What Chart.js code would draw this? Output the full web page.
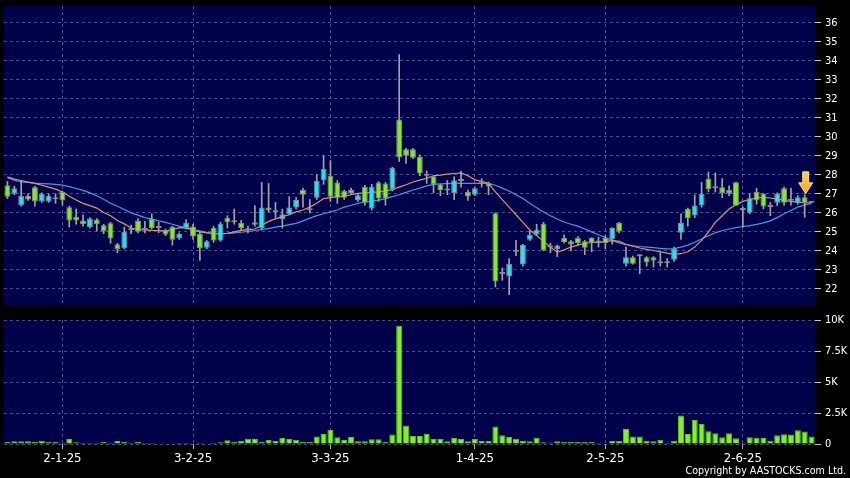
<!DOCTYPE html>
<html>
<head>
<meta charset="utf-8">
<script src="https://cdn.jsdelivr.net/npm/chart.js@4.4.1/dist/chart.umd.min.js"></script>
<style>
    html, body { margin: 0; padding: 0; background: #000; }
    body { width: 850px; height: 478px; position: relative; overflow: hidden; }
    #priceBox { position: absolute; left: 0; top: 0; width: 850px; height: 312px; }
    #volBox { position: absolute; left: 0; top: 312px; width: 850px; height: 166px; }
    #copyright {
        position: absolute; right: 4px; top: 464px; color: #fff;
        font: 10.6px "DejaVu Sans Condensed", "Liberation Sans Narrow", sans-serif;
    }
</style>
</head>
<body>
<div id="priceBox"><canvas id="priceChart"></canvas></div>
<div id="volBox"><canvas id="volChart"></canvas></div>
<div id="copyright">Copyright by AASTOCKS.com Ltd.</div>

<script>
const dates = [
    "18-12-24","19-12-24","20-12-24","23-12-24","24-12-24","27-12-24","30-12-24","31-12-24",
    "2-1-25","3-1-25","6-1-25","7-1-25","8-1-25","9-1-25","10-1-25","13-1-25","14-1-25","15-1-25",
    "16-1-25","17-1-25","20-1-25","21-1-25","22-1-25","23-1-25","24-1-25","27-1-25","28-1-25",
    "3-2-25","4-2-25","5-2-25","6-2-25","7-2-25","10-2-25","11-2-25","12-2-25","13-2-25","14-2-25",
    "17-2-25","18-2-25","19-2-25","20-2-25","21-2-25","24-2-25","25-2-25","26-2-25","27-2-25","28-2-25",
    "3-3-25","4-3-25","5-3-25","6-3-25","7-3-25","10-3-25","11-3-25","12-3-25","13-3-25","14-3-25",
    "17-3-25","18-3-25","19-3-25","20-3-25","21-3-25","24-3-25","25-3-25","26-3-25","27-3-25","28-3-25","31-3-25",
    "1-4-25","2-4-25","3-4-25","7-4-25","8-4-25","9-4-25","10-4-25","11-4-25","14-4-25","15-4-25",
    "16-4-25","17-4-25","22-4-25","23-4-25","24-4-25","25-4-25","28-4-25","29-4-25","30-4-25",
    "2-5-25","6-5-25","7-5-25","8-5-25","9-5-25","12-5-25","13-5-25","14-5-25","15-5-25","16-5-25",
    "19-5-25","20-5-25","21-5-25","22-5-25","23-5-25","26-5-25","27-5-25","28-5-25","29-5-25","30-5-25",
    "2-6-25","3-6-25","4-6-25","5-6-25","6-6-25","9-6-25","10-6-25","11-6-25","12-6-25","13-6-25","16-6-25"
];

const opens = [
    27.45, 27.0, 26.4, 26.9, 27.35, 26.6, 26.6, 26.72, 27.1, 26.3,
    25.8, 25.6, 25.25, 25.65, 25.35, 25.45, 24.35, 24.15, 25.08, 25.6,
    25.1, 25.68, 25.2, 25.1, 25.25, 24.68, 25.2, 25.28, 24.9, 24.16,
    25.2, 24.54, 25.74, 25.5, 25.46, 25.08, 25.5, 25.2, 26.28, 26.03,
    25.67, 25.93, 26.28, 27.2, 26.13, 26.8, 27.72, 27.95, 27.6, 27.16,
    27.05, 26.67, 27.37, 26.23, 27.6, 27.54, 27.25, 30.91, 29.35, 29.35,
    28.95, 27.95, 27.93, 27.49, 27.18, 27.05, 27.68, 27.09, 26.95, 27.58,
    27.56, 25.98, 22.78, 22.65, 23.96, 23.28, 24.58, 24.86, 25.42, 24.18,
    24.1, 24.68, 24.5, 24.68, 24.5, 24.68, 24.4, 24.68, 24.63, 25.47,
    23.32, 23.67, 23.72, 23.67, 23.67, 23.35, 23.35, 23.53, 24.95, 26.21,
    25.86, 26.39, 27.79, 27.3, 27.35, 27.0, 27.61, 26.26, 26.0, 27.09,
    27.0, 26.31, 26.53, 27.3, 26.63, 26.53, 26.82, 26.53
];
const highs = [
    27.65, 27.4, 27.7, 27.0, 27.4, 27.05, 27.0, 27.0, 27.15, 26.35,
    26.2, 25.9, 25.75, 25.7, 25.4, 25.5, 24.4, 25.25, 25.35, 25.7,
    25.55, 25.95, 25.5, 25.15, 25.3, 24.95, 25.65, 25.4, 25.0, 24.55,
    25.3, 25.5, 25.85, 26.2, 25.6, 25.3, 26.38, 27.6, 27.55, 26.55,
    26.2, 26.85, 26.8, 27.3, 26.7, 28.0, 29.0, 28.75, 27.7, 27.2,
    27.3, 27.0, 27.45, 27.5, 27.65, 27.6, 28.4, 34.33, 29.4, 29.4,
    29.05, 28.2, 27.95, 27.5, 27.7, 27.9, 28.2, 27.2, 27.35, 27.8,
    27.62, 26.0, 23.1, 23.6, 24.55, 24.35, 25.05, 25.4, 25.5, 24.4,
    24.3, 24.85, 24.55, 24.75, 24.55, 24.7, 24.72, 24.8, 25.22, 25.5,
    24.2, 23.72, 23.8, 23.7, 23.7, 23.9, 23.6, 24.2, 25.95, 26.25,
    26.95, 27.6, 28.15, 28.1, 27.8, 27.42, 27.62, 26.3, 27.0, 27.28,
    27.02, 26.55, 27.05, 27.35, 27.3, 26.9, 26.95, 26.53
];
const lows = [
    26.75, 26.95, 26.35, 26.65, 26.35, 26.55, 26.55, 26.5, 26.4, 25.25,
    25.4, 25.3, 25.2, 25.05, 24.9, 24.4, 23.9, 24.1, 24.9, 24.95,
    24.95, 25.15, 24.95, 24.8, 24.3, 24.6, 25.15, 24.6, 23.5, 24.1,
    24.45, 24.5, 25.2, 25.4, 25.1, 24.95, 25.3, 25.1, 26.05, 25.75,
    25.2, 25.9, 26.2, 26.3, 26.0, 26.7, 27.5, 26.6, 26.5, 26.7,
    26.95, 26.6, 26.4, 26.15, 26.6, 26.4, 27.15, 28.7, 28.6, 28.85,
    27.95, 27.55, 27.05, 26.9, 26.95, 26.7, 27.35, 26.65, 26.9, 27.35,
    26.95, 22.1, 22.45, 21.7, 23.75, 23.2, 24.55, 24.8, 24.0, 23.9,
    23.7, 24.4, 24.0, 24.3, 23.8, 23.95, 24.2, 24.1, 24.35, 24.95,
    23.2, 23.3, 22.8, 23.2, 23.15, 23.2, 23.15, 23.45, 24.6, 25.3,
    25.75, 26.3, 27.1, 27.1, 26.8, 26.9, 26.38, 25.25, 25.95, 26.45,
    26.2, 25.85, 26.38, 26.4, 26.4, 26.45, 25.77, 26.53
];
const closes = [
    26.85, 27.3, 26.9, 26.7, 26.6, 27.0, 26.9, 26.78, 26.65, 25.6,
    25.6, 25.4, 25.7, 25.4, 25.05, 24.65, 24.1, 25.0, 25.12, 25.0,
    25.13, 25.2, 25.22, 24.86, 24.58, 24.9, 25.47, 24.75, 24.14, 24.5,
    24.54, 25.42, 25.5, 25.55, 25.2, 25.12, 25.37, 26.28, 26.14, 26.07,
    25.93, 26.28, 26.67, 26.95, 26.18, 27.68, 28.3, 26.84, 26.8, 26.8,
    27.2, 26.93, 26.53, 27.37, 26.75, 26.75, 28.37, 28.91, 29.0, 28.9,
    28.07, 28.0, 27.5, 27.2, 27.22, 27.72, 27.72, 26.86, 27.3, 27.62,
    27.39, 22.39, 22.82, 23.32, 24.0, 24.32, 24.84, 25.12, 24.05, 24.22,
    24.28, 24.46, 24.33, 24.42, 24.16, 24.42, 24.54, 24.42, 25.2, 25.02,
    23.67, 23.32, 23.76, 23.4, 23.49, 23.39, 23.39, 24.1, 25.46, 25.72,
    26.39, 27.0, 27.26, 27.34, 27.05, 27.2, 26.39, 26.12, 26.77, 26.65,
    26.33, 26.35, 27.0, 26.53, 26.67, 26.82, 26.53, 26.53
];

// short (orange) and long (blue) moving averages
const maShort = [
    27.9, 27.78, 27.7, 27.62, 27.55, 27.45, 27.35, 27.25, 27.1, 26.87,
    26.68, 26.5, 26.38, 26.25, 26.02, 25.85, 25.6, 25.42, 25.2, 25.12,
    25.1, 25.08, 25.07, 25.05, 25.1, 25.22, 25.2, 25.1, 25.0, 24.95,
    24.9, 24.9, 24.92, 25.0, 25.08, 25.12, 25.15, 25.35, 25.55, 25.68,
    25.8, 25.9, 26.05, 26.15, 26.3, 26.5, 26.75, 26.8, 26.85, 26.88,
    26.95, 27.02, 27.05, 27.08, 27.1, 27.15, 27.22, 27.35, 27.48, 27.62,
    27.72, 27.82, 27.95, 27.98, 28.04, 28.07, 28.1, 27.95, 27.75, 27.65,
    27.55, 27.1, 26.7, 26.3, 25.9, 25.5, 25.1, 24.8, 24.5, 24.2,
    23.93, 24.05, 24.2, 24.3, 24.4, 24.45, 24.45, 24.47, 24.55, 24.5,
    24.35, 24.25, 24.15, 24.08, 24.02, 23.95, 23.88, 23.82, 23.85, 23.95,
    24.2, 24.55, 25.0, 25.5, 25.85, 26.2, 26.42, 26.6, 26.7, 26.78,
    26.82, 26.78, 26.72, 26.66, 26.6, 26.55, 26.53, 26.53
];
const maLong = [
    27.85, 27.72, 27.63, 27.6, 27.56, 27.54, 27.52, 27.5, 27.46, 27.38,
    27.28, 27.18, 27.05, 26.9, 26.72, 26.5, 26.35, 26.18, 26.0, 25.88,
    25.75, 25.68, 25.58, 25.5, 25.4, 25.3, 25.22, 25.12, 25.05, 24.98,
    24.92, 24.9, 24.92, 24.95, 24.98, 25.03, 25.07, 25.13, 25.17, 25.25,
    25.3, 25.38, 25.45, 25.58, 25.72, 25.85, 25.95, 26.05, 26.15, 26.3,
    26.4, 26.5, 26.57, 26.62, 26.67, 26.75, 26.85, 26.95, 27.08, 27.2,
    27.3, 27.42, 27.5, 27.52, 27.54, 27.56, 27.55, 27.55, 27.55, 27.55,
    27.55, 27.45, 27.3, 27.15, 26.95, 26.75, 26.5, 26.27, 26.05, 25.85,
    25.68, 25.52, 25.4, 25.3, 25.15, 25.0, 24.85, 24.7, 24.55, 24.42,
    24.32, 24.27, 24.23, 24.2, 24.17, 24.13, 24.1, 24.12, 24.2, 24.3,
    24.45, 24.62, 24.8, 24.95, 25.07, 25.15, 25.22, 25.28, 25.33, 25.39,
    25.47, 25.58, 25.75, 25.95, 26.12, 26.3, 26.42, 26.5
];

const volumes = [
    190, 215, 215, 215, 190, 270, 190, 190, 108, 405,
    135, 108, 80, 80, 190, 108, 240, 190, 108, 190,
    80, 80, 30, 30, 55, 80, 80, 30, 80, 30,
    108, 135, 300, 160, 270, 430, 405, 190, 325, 240,
    485, 405, 350, 190, 190, 595, 810, 1135, 540, 325,
    570, 215, 215, 380, 380, 190, 757, 9540, 1490, 650,
    650, 810, 405, 405, 215, 485, 405, 215, 405, 240,
    240, 1405, 700, 570, 430, 270, 215, 510, 135, 108,
    215, 160, 160, 160, 160, 160, 80, 30, 240, 270,
    1215, 595, 595, 270, 215, 350, 80, 270, 2300, 810,
    1945, 1620, 1030, 865, 540, 865, 460, 80, 540, 510,
    485, 270, 700, 780, 757, 1110, 1000, 595
];

const tickDates = ["2-1-25", "3-2-25", "3-3-25", "1-4-25", "2-5-25", "2-6-25"];
const priceTicks = [22, 23, 24, 25, 26, 27, 28, 29, 30, 31, 32, 33, 34, 35, 36];
const volTicks = [0, 2500, 5000, 7500, 10000];
const markerDate = "13-6-25";

const NAVY = "#00004a";
const GRID = "rgba(140, 140, 200, 0.55)";
const UP = "#22e2f2";
const DOWN = "#80ec1e";
const FONT = "'DejaVu Sans Condensed', 'Liberation Sans Narrow', sans-serif";

const plotBg = {
    id: "plotBg",
    beforeDraw(chart) {
        const { ctx, chartArea } = chart;
        ctx.save();
        ctx.fillStyle = NAVY;
        ctx.fillRect(chartArea.left, chartArea.top, chartArea.width, chartArea.height);
        ctx.restore();
    }
};

// yellow down arrow above the marked candle
const arrowMarker = {
    id: "arrowMarker",
    afterDatasetsDraw(chart) {
        const i = dates.indexOf(markerDate);
        const x = chart.scales.x.getPixelForValue(i) + 1;
        const tip = chart.scales.y.getPixelForValue(highs[i]) - 1;
        const ctx = chart.ctx;
        const grad = ctx.createLinearGradient(0, tip - 22, 0, tip);
        grad.addColorStop(0, "#ffd23a");
        grad.addColorStop(1, "#f7a812");
        ctx.save();
        ctx.beginPath();
        ctx.moveTo(x - 3, tip - 22);
        ctx.lineTo(x + 3, tip - 22);
        ctx.lineTo(x + 3, tip - 11);
        ctx.lineTo(x + 7, tip - 11);
        ctx.lineTo(x, tip);
        ctx.lineTo(x - 7, tip - 11);
        ctx.lineTo(x - 3, tip - 11);
        ctx.closePath();
        ctx.fillStyle = grad;
        ctx.fill();
        ctx.strokeStyle = "rgba(255, 245, 200, 0.8)";
        ctx.lineWidth = 1;
        ctx.stroke();
        ctx.restore();
    }
};

function xTicksFromDates(scale) {
    scale.ticks = tickDates.map(d => ({ value: dates.indexOf(d) }));
}

function semPadding(scale) {
    scale.paddingTop = 0;
    scale.paddingBottom = 0;
    scale.paddingLeft = 0;
    scale.paddingRight = 0;
}

function mostrarPreco() {
    const bodies = [];
    const wicks = [];
    const bodyColors = [];

    for (let i = 0; i < dates.length; i++) {
        bodies.push([opens[i], closes[i]]);
        wicks.push([lows[i], highs[i]]);

        if (closes[i] > opens[i]) {
            bodyColors.push(UP);
        } else if (closes[i] < opens[i]) {
            bodyColors.push(DOWN);
        } else {
            bodyColors.push("#a0a0a0");
        }
    }

    new Chart(document.getElementById("priceChart"), {
        type: "bar",
        data: {
            labels: dates,
            datasets: [
                {
                    type: "line",
                    data: maLong,
                    borderColor: "#3a9ee8",
                    borderWidth: 1.2,
                    pointRadius: 0,
                    order: 4
                },
                {
                    type: "line",
                    data: maShort,
                    borderColor: "#e49464",
                    borderWidth: 1.2,
                    pointRadius: 0,
                    order: 3
                },
                {
                    data: wicks,
                    backgroundColor: "#a4a4a4",
                    barThickness: 1,
                    grouped: false,
                    order: 2
                },
                {
                    data: bodies,
                    backgroundColor: bodyColors,
                    borderColor: "#8a8a8a",
                    borderWidth: 1,
                    borderSkipped: false,
                    barPercentage: 0.86,
                    categoryPercentage: 1,
                    minBarLength: 2,
                    grouped: false,
                    order: 1
                }
            ]
        },
        options: {
            responsive: true,
            maintainAspectRatio: false,
            animation: false,
            layout: { padding: { left: 4, top: 6, right: 0, bottom: 6 } },
            plugins: { legend: { display: false }, tooltip: { enabled: false } },
            scales: {
                x: {
                    type: "category",
                    offset: true,
                    afterBuildTicks: xTicksFromDates,
                    afterFit: s => { s.height = 0; semPadding(s); },
                    ticks: { display: false, autoSkip: false },
                    grid: { color: GRID, offset: false, drawTicks: false },
                    border: { display: false, dash: [3, 3] }
                },
                y: {
                    position: "right",
                    min: 21.1,
                    max: 36.88,
                    afterBuildTicks: s => { s.ticks = priceTicks.map(v => ({ value: v })); },
                    afterFit: s => { s.width = 35; semPadding(s); },
                    ticks: { color: "#ffffff", padding: 4, font: { family: FONT, size: 11 } },
                    grid: { color: GRID, tickLength: 6, tickColor: "#c8c8c8", tickBorderDash: [] },
                    border: { display: false, dash: [3, 3] }
                }
            }
        },
        plugins: [plotBg, arrowMarker]
    });
}

function mostrarVolume() {
    new Chart(document.getElementById("volChart"), {
        type: "bar",
        data: {
            labels: dates,
            datasets: [{
                data: volumes,
                backgroundColor: "#7ef41c",
                borderColor: "#5ec012",
                borderWidth: 1,
                borderSkipped: "bottom",
                barPercentage: 0.88,
                categoryPercentage: 1
            }]
        },
        options: {
            responsive: true,
            maintainAspectRatio: false,
            animation: false,
            layout: { padding: { left: 4, top: 8, right: 0, bottom: 0 } },
            plugins: { legend: { display: false }, tooltip: { enabled: false } },
            scales: {
                x: {
                    type: "category",
                    offset: true,
                    afterBuildTicks: xTicksFromDates,
                    afterFit: s => { s.height = 34; semPadding(s); },
                    ticks: {
                        autoSkip: false,
                        maxRotation: 0,
                        color: "#ffffff",
                        padding: 2,
                        font: { family: FONT, size: 13 }
                    },
                    grid: { color: GRID, offset: false, tickLength: 5, tickColor: "#b0b0b0", tickBorderDash: [] },
                    border: { display: false, dash: [3, 3] }
                },
                y: {
                    position: "right",
                    min: 0,
                    max: 10000,
                    afterBuildTicks: s => { s.ticks = volTicks.map(v => ({ value: v })); },
                    afterFit: s => { s.width = 35; semPadding(s); },
                    ticks: {
                        color: "#ffffff",
                        padding: 4,
                        font: { family: FONT, size: 11 },
                        callback: v => v === 0 ? "0" : (v / 1000) + "K"
                    },
                    grid: { color: GRID, tickLength: 6, tickColor: "#c8c8c8", tickBorderDash: [] },
                    border: { display: false, dash: [3, 3] }
                }
            }
        },
        plugins: [plotBg]
    });
}

document.addEventListener("DOMContentLoaded", mostrarPreco);
document.addEventListener("DOMContentLoaded", mostrarVolume);
</script>
</body>
</html>
